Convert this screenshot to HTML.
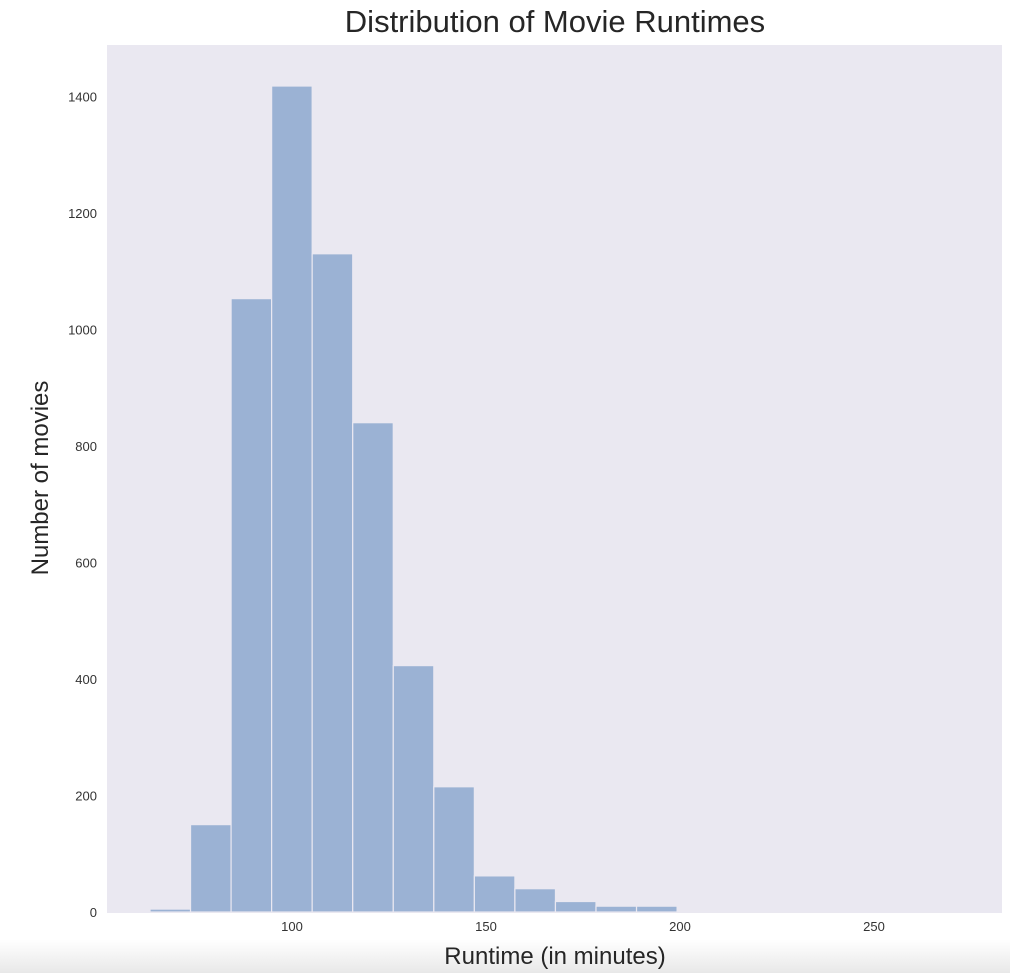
<!DOCTYPE html>
<html><head><meta charset="utf-8"><style>
body{margin:0;background:#fff;width:1010px;height:973px;overflow:hidden;font-family:"Liberation Sans",sans-serif;}
svg{position:absolute;left:0;top:0}
</style></head><body>
<svg id="chart" width="1010" height="973">
<defs><linearGradient id="bg" x1="0" y1="0" x2="0" y2="1"><stop offset="0" stop-color="#fff"/><stop offset="1" stop-color="#e8e8e8"/></linearGradient></defs>
<rect x="0" y="940" width="1010" height="33" fill="url(#bg)"/>
<text x="555" y="32" font-size="31" text-anchor="middle" fill="#262626">Distribution of Movie Runtimes</text>
<rect x="107" y="45" width="895" height="868" fill="#eae8f1"/>
<g id="bars"></g><g id="xt"></g><g id="yt"></g>
<text x="555" y="964" font-size="24" text-anchor="middle" fill="#262626">Runtime (in minutes)</text>
<text transform="translate(48,478) rotate(-90)" font-size="24" text-anchor="middle" fill="#262626">Number of movies</text>
</svg>
<script>
const binStart = 63.4;
const binWidth = 10.45;
const counts = [5,150,1053,1418,1130,840,423,215,62,40,18,10,10,2,1,1,1,0,0,1];
const xTicks = [100,150,200,250];
const yTicks = [0,200,400,600,800,1000,1200,1400];
const xs = v => 292 + (v - 100) * 3.88;
const ys = v => 912 - v * 0.5825;
const NS = "http://www.w3.org/2000/svg";
const bars = document.getElementById('bars');
counts.forEach((c, i) => {
  const x0 = xs(binStart + i * binWidth), x1 = xs(binStart + (i + 1) * binWidth);
  const r = document.createElementNS(NS, 'rect');
  r.setAttribute('x', x0); r.setAttribute('width', x1 - x0);
  r.setAttribute('y', ys(c)); r.setAttribute('height', ys(0) - ys(c));
  r.setAttribute('fill', '#9bb2d4'); r.setAttribute('stroke', '#eae8f1'); r.setAttribute('stroke-width', '1.2');
  
  
  bars.appendChild(r);
});
const xt = document.getElementById('xt');
xTicks.forEach(v => {
  const t = document.createElementNS(NS, 'text');
  t.setAttribute('x', xs(v)); t.setAttribute('y', 931); t.setAttribute('font-size', '13');
  t.setAttribute('text-anchor', 'middle'); t.setAttribute('fill', '#333');
  t.textContent = v;
  
  
  xt.appendChild(t);
});
const yt = document.getElementById('yt');
yTicks.forEach(v => {
  const t = document.createElementNS(NS, 'text');
  t.setAttribute('x', 97); t.setAttribute('y', ys(v) + 5); t.setAttribute('font-size', '13');
  t.setAttribute('text-anchor', 'end'); t.setAttribute('fill', '#333');
  t.textContent = v;
  
  
  yt.appendChild(t);
});
</script>
</body></html>
